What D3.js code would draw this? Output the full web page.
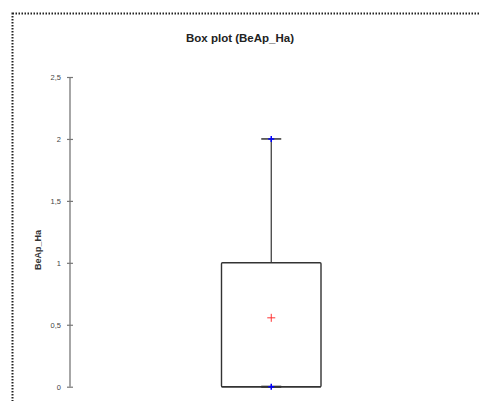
<!DOCTYPE html>
<html><head><meta charset="utf-8">
<script src="https://cdn.jsdelivr.net/npm/d3@7"></script>
<style>body{margin:0;background:#fff;}svg{display:block;}</style>
</head><body>
<div id="chart"></div>
<script>
const title = "Box plot (BeAp_Ha)";
const yLabel = "BeAp_Ha";
const yTicks = [0, 0.5, 1, 1.5, 2, 2.5];
const yTickLabels = ["0", "0,5", "1", "1,5", "2", "2,5"];
const boxStats = [{name: "BeAp_Ha", min: 0, q1: 0, median: 0, q3: 1, max: 2, mean: 0.556}];
const extremes = [0, 2];

const W = 479, H = 401;
const svg = d3.select("#chart").append("svg").attr("width", W).attr("height", H);

// dotted frame
svg.append("rect").attr("x", 12.5).attr("y", 13.5).attr("width", 500).attr("height", 420)
  .attr("fill", "none").attr("stroke", "#222").attr("stroke-width", 2).attr("stroke-dasharray", "1.5,1.5");

svg.append("text").attr("x", 240).attr("y", 42).attr("text-anchor", "middle")
  .attr("font-family", "Liberation Sans, Arial, sans-serif").attr("font-weight", "bold")
  .attr("font-size", 11.5).attr("fill", "#222").text(title);

const y = d3.scaleLinear().domain([0, 2.5]).range([386.7, 77]);
const x = d3.scaleBand().domain(boxStats.map(d => d.name)).range([221.5, 321]);
const axisX = 70;

const axis = svg.append("g").attr("transform", `translate(${axisX},0)`)
  .call(d3.axisLeft(y).tickValues(yTicks).tickFormat((d, i) => yTickLabels[i]).tickSize(3).tickPadding(6));
axis.select(".domain").attr("stroke", "#777").attr("stroke-width", 1.3).attr("d", `M0,${y(0)}V${y(2.5)}`);
axis.selectAll(".tick line").attr("stroke", "#777").attr("x1", -3).attr("x2", 3).attr("stroke-width", 1.2);
axis.selectAll(".tick text").attr("font-family", "Liberation Sans, Arial, sans-serif").attr("font-size", 7.5).attr("fill", "#444");

svg.append("text").attr("transform", `translate(41,250) rotate(-90)`).attr("text-anchor", "middle")
  .attr("font-family", "Liberation Sans, Arial, sans-serif").attr("font-weight", "bold")
  .attr("font-size", 9).attr("fill", "#333").text(yLabel);

const g = svg.append("g");
boxStats.forEach(d => {
  const x0 = x(d.name), x1 = x0 + x.bandwidth(), cx = x0 + x.bandwidth() / 2;
  g.append("line").attr("x1", cx).attr("x2", cx).attr("y1", y(d.q3)).attr("y2", y(d.max))
    .attr("stroke", "#333").attr("stroke-width", 1.2);
  g.append("line").attr("x1", cx - 10).attr("x2", cx + 10).attr("y1", y(d.max)).attr("y2", y(d.max))
    .attr("stroke", "#333").attr("stroke-width", 1.5);
  g.append("line").attr("x1", cx - 10).attr("x2", cx + 10).attr("y1", y(d.min)).attr("y2", y(d.min))
    .attr("stroke", "#222").attr("stroke-width", 2);
  g.append("rect").attr("x", x0).attr("y", y(d.q3)).attr("width", x1 - x0).attr("height", y(d.q1) - y(d.q3))
    .attr("rx", 1).attr("fill", "none").attr("stroke", "#333").attr("stroke-width", 1.4);
  g.append("line").attr("x1", x0).attr("x2", x1).attr("y1", y(d.median)).attr("y2", y(d.median))
    .attr("stroke", "#333").attr("stroke-width", 1.4);
  extremes.forEach(v => {
    g.append("path").attr("d", `M${cx - 3},${y(v)}H${cx + 3}M${cx},${y(v) - 3}V${y(v) + 3}`)
      .attr("stroke", "#0000ff").attr("stroke-width", 1.5);
  });
  g.append("path").attr("d", `M${cx - 4},${y(d.mean)}H${cx + 4}M${cx},${y(d.mean) - 4}V${y(d.mean) + 4}`)
    .attr("stroke", "#ff3333").attr("stroke-width", 1);
});
</script>
</body></html>
